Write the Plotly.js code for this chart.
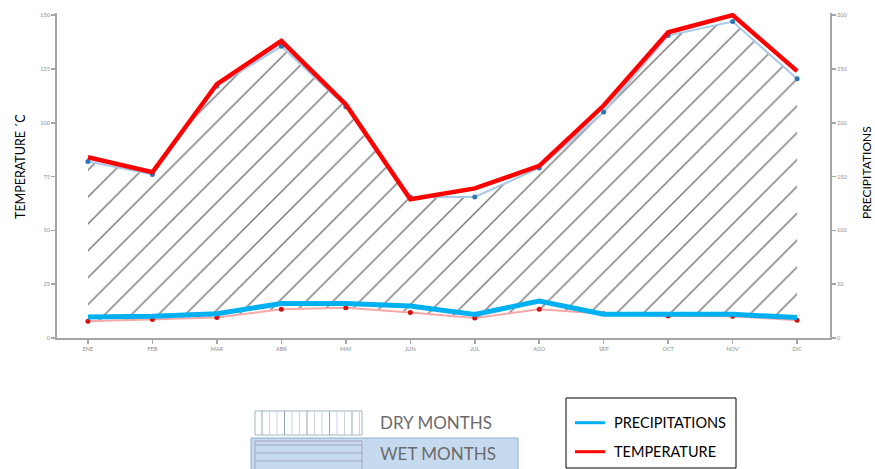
<!DOCTYPE html>
<html>
<head>
<meta charset="utf-8">
<script src="https://cdn.plot.ly/plotly-3.0.1.min.js"></script>
<style>html,body{margin:0;padding:0;background:#fff;}#chart{width:875px;height:469px;}</style>
</head>
<body>
<div id="chart"></div>
<script>
// ---- data ----
const months = ['ENE','FEB','MAR','ABR','MAY','JUN','JUL','AGO','SEP','OCT','NOV','DIC'];
// thin light-blue line with blue dots (right axis, precipitations)
const precipitation = [164, 152, 234, 271, 215, 131, 131, 158, 210, 281, 294, 241];
// thick red line drawn over it (right axis)
const redLine = [168, 154, 236, 276, 217, 129, 139, 160, 216, 284, 300, 248];
// thin pink line with red dots (left axis, temperature)
const temperature = [7.8, 8.6, 9.5, 13.3, 14.1, 11.8, 9.3, 13.3, 11.3, 10.2, 10.1, 8.2];
// thick blue line drawn over it (left axis)
const blueLine = [9.8, 10.1, 11.3, 16.0, 16.0, 14.9, 10.9, 17.2, 11.0, 11.0, 11.0, 9.5];

const tempTicks = [0, 25, 50, 75, 100, 125, 150];
const precipTicks = [0, 50, 100, 150, 200, 250, 300];

const legendLines = ['PRECIPITATIONS', 'TEMPERATURE'];
const legendColors = ['#00b0f0', '#ff0000'];
const monthTypes = ['DRY MONTHS', 'WET MONTHS'];

// ---- traces ----
const traces = [
  { // hatched precipitation area
    x: months, y: precipitation, yaxis: 'y', type: 'scatter', mode: 'lines+markers',
    fill: 'tozeroy', fillcolor: 'rgba(0,0,0,0)',
    fillpattern: {shape: '/', fgcolor: '#777777', bgcolor: 'rgba(0,0,0,0)', size: 19, solidity: 0.075},
    line: {color: '#a9c9ea', width: 2},
    marker: {color: '#2e75b6', size: 5},
    hoverinfo: 'skip', showlegend: false
  },
  {
    x: months, y: redLine, yaxis: 'y', type: 'scatter', mode: 'lines',
    line: {color: '#ff0000', width: 4.5}, showlegend: false, hoverinfo: 'skip'
  },
  { // white mask under the temperature curve
    x: months, y: temperature, yaxis: 'y2', type: 'scatter', mode: 'lines',
    fill: 'tozeroy', fillcolor: '#ffffff', line: {width: 0, color: '#ffffff'},
    showlegend: false, hoverinfo: 'skip'
  },
  {
    x: months, y: temperature, yaxis: 'y2', type: 'scatter', mode: 'lines+markers',
    line: {color: '#f7a8a8', width: 2}, marker: {color: '#d11010', size: 5},
    showlegend: false, hoverinfo: 'skip'
  },
  {
    x: months, y: blueLine, yaxis: 'y2', type: 'scatter', mode: 'lines',
    line: {color: '#00b0f0', width: 5}, showlegend: false, hoverinfo: 'skip'
  }
];

// ---- layout helpers ----
const L = 57, R = 830, T = 13, B = 338;
const px = v => (v - L) / (R - L);
const py = v => (B - v) / (B - T);

const shapes = [];
const annotations = [];

// DRY MONTHS box with vertical lines
shapes.push({type:'rect', xref:'paper', yref:'paper', x0:px(255), x1:px(362), y0:py(435), y1:py(411),
  line:{color:'#9fb7c4', width:1}, fillcolor:'rgba(0,0,0,0)'});
for (let xv = 262; xv < 362; xv += 7.5) {
  shapes.push({type:'line', xref:'paper', yref:'paper', x0:px(xv), x1:px(xv), y0:py(435), y1:py(411),
    line:{color: (Math.round((xv-262)/7.5) % 3 === 0) ? '#8fa7b4' : '#c9d6de', width:1}});
}
// WET MONTHS background + inner box with horizontal lines
shapes.push({type:'rect', xref:'paper', yref:'paper', x0:px(251), x1:px(518), y0:py(472), y1:py(438),
  line:{color:'#8eb0d6', width:1}, fillcolor:'#c6daef'});
shapes.push({type:'rect', xref:'paper', yref:'paper', x0:px(255), x1:px(362), y0:py(472), y1:py(441),
  line:{color:'#a9a3bd', width:1}, fillcolor:'rgba(0,0,0,0)'});
[445, 453, 461].forEach(yv => shapes.push({type:'line', xref:'paper', yref:'paper', x0:px(255), x1:px(362),
  y0:py(yv), y1:py(yv), line:{color:'#a9a3bd', width:1}}));

annotations.push({xref:'paper', yref:'paper', x:px(378), y:py(422), xanchor:'left', yanchor:'middle',
  text: monthTypes[0], showarrow:false, font:{family:'Lato, sans-serif', size:17, color:'#6b6b6b'}});
annotations.push({xref:'paper', yref:'paper', x:px(378), y:py(453.5), xanchor:'left', yanchor:'middle',
  text: monthTypes[1], showarrow:false, font:{family:'Lato, sans-serif', size:17, color:'#6b6b6b'}});

// line legend box
shapes.push({type:'rect', xref:'paper', yref:'paper', x0:px(566), x1:px(736), y0:py(468), y1:py(398),
  line:{color:'#000000', width:1}, fillcolor:'#ffffff'});
[422.7, 451.7].forEach((yv, i) => {
  shapes.push({type:'line', xref:'paper', yref:'paper', x0:px(575), x1:px(605), y0:py(yv), y1:py(yv),
    line:{color: legendColors[i], width:3}});
  annotations.push({xref:'paper', yref:'paper', x:px(612), y:py(yv), xanchor:'left', yanchor:'middle',
    text: legendLines[i], showarrow:false, font:{family:'Lato, sans-serif', size:14.5, color:'#000'}});
});

// axis titles
annotations.push({xref:'paper', yref:'paper', x:px(20), y:py(167), xanchor:'center', yanchor:'middle',
  text:'TEMPERATURE ´C', textangle:-90, showarrow:false, font:{family:'Lato, sans-serif', size:12.5, color:'#000'}});
annotations.push({xref:'paper', yref:'paper', x:px(866), y:py(173), xanchor:'center', yanchor:'middle',
  text:'PRECIPITATIONS', textangle:-90, showarrow:false, font:{family:'Lato, sans-serif', size:12, color:'#000'}});

const axisCommon = {
  showline: true, linecolor: '#a6a6a6', linewidth: 2, showgrid: false, zeroline: false,
  ticks: 'outside', ticklen: 4, tickcolor: '#a6a6a6', tickwidth: 1.5,
  tickfont: {family: 'Lato, sans-serif', size: 5.5, color: '#8c8c8c'}
};

const layout = {
  width: 875, height: 469,
  margin: {l: L, r: 875 - R, t: T, b: 469 - B, pad: 0},
  paper_bgcolor: '#ffffff', plot_bgcolor: '#ffffff',
  showlegend: false,
  xaxis: Object.assign({}, axisCommon, {type: 'category', range: [-0.48, 11.51], tickvals: months, ticktext: months}),
  yaxis: Object.assign({}, axisCommon, {side: 'right', range: [0, 302], tickvals: precipTicks, ticktext: precipTicks.map(String)}),
  yaxis2: Object.assign({}, axisCommon, {side: 'left', overlaying: 'y', range: [0, 151], tickvals: tempTicks, ticktext: tempTicks.map(String)}),
  shapes: shapes,
  annotations: annotations
};

Plotly.newPlot('chart', traces, layout, {displayModeBar: false, staticPlot: true});
</script>
</body>
</html>
